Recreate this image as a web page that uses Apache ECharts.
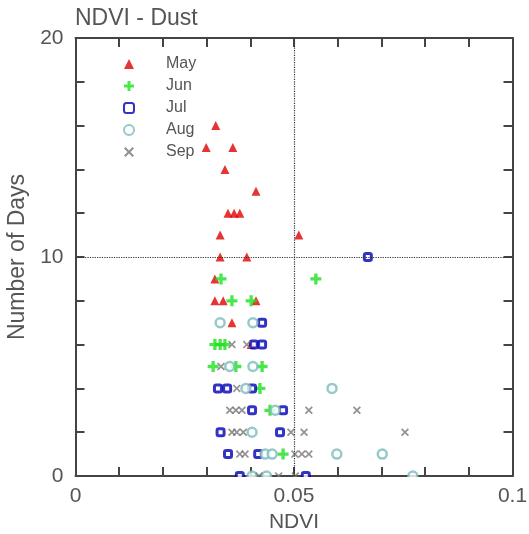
<!DOCTYPE html>
<html>
<head>
<meta charset="utf-8">
<script src="https://cdn.jsdelivr.net/npm/echarts@6/dist/echarts.min.js"></script>
<style>
  html, body { margin: 0; padding: 0; background: #fff; }
  #chart { width: 529px; height: 534px; }
</style>
</head>
<body>
<div id="chart"></div>
<script>
    // [NDVI, number of days]
    const may = [[0.0321, 16], [0.0299, 15], [0.0360, 15], [0.0342, 14], [0.0413, 13], [0.0349, 12], [0.0363, 12], [0.0376, 12],
        [0.0331, 11], [0.0511, 11], [0.0331, 10], [0.0392, 10], [0.0319, 9], [0.0319, 8], [0.0338, 8], [0.0413, 8], [0.0358, 7], [0.0402, 6]]
    const jun = [[0.0333, 9], [0.0550, 9], [0.0358, 8], [0.0402, 8], [0.0319, 6], [0.0331, 6], [0.0342, 6], [0.0315, 5], [0.0367, 5],
        [0.0427, 5], [0.0422, 4], [0.0445, 3], [0.0475, 1]]
    const jul = [[0.0669, 10], [0.0427, 7], [0.0408, 6], [0.0427, 6], [0.0326, 4], [0.0347, 4], [0.0404, 4], [0.0404, 3], [0.0475, 3],
        [0.0332, 2], [0.0468, 2], [0.0349, 1], [0.0418, 1], [0.0376, 0], [0.0527, 0]]
    const aug = [[0.0331, 7], [0.0406, 7], [0.0353, 5], [0.0406, 5], [0.0390, 4], [0.0587, 4], [0.0457, 3], [0.0404, 2], [0.0434, 1],
        [0.0450, 1], [0.0598, 1], [0.0702, 1], [0.0404, 0], [0.0437, 0], [0.0772, 0]]
    const sep = [[0.0358, 6], [0.0392, 6], [0.0333, 5], [0.0369, 4], [0.0353, 3], [0.0367, 3], [0.0381, 3], [0.0534, 3], [0.0644, 3],
        [0.0358, 2], [0.0369, 2], [0.0384, 2], [0.0493, 2], [0.0523, 2], [0.0754, 2], [0.0376, 1], [0.0388, 1], [0.0502, 1],
        [0.0518, 1], [0.0534, 1], [0.0420, 0], [0.0465, 0], [0.0503, 0]]
    const months = ['May', 'Jun', 'Jul', 'Aug', 'Sep']
    const xLabels = [0, 0.05, 0.1]
    const yLabels = [0, 10, 20]

    const axisColor = '#444'
    const textColor = '#555'
    const font = 'Liberation Sans, Arial, sans-serif'

    const plus = 'path://M3.5,0h3v3.5h3.5v3h-3.5v3.5h-3v-3.5h-3.5v-3h3.5z'
    const cross = 'path://M1.5,0L5,3.5L8.5,0L10,1.5L6.5,5L10,8.5L8.5,10L5,6.5L1.5,10L0,8.5L3.5,5L0,1.5z'

    const showLabel = (list) => (v) => list.some(t => Math.abs(t - v) < 1e-9) ? String(+v.toFixed(3)) : ''

    const baseX = {
        type: 'value', min: 0, max: 0.1, interval: 0.01,
        axisLine: { show: true, onZero: false, lineStyle: { color: axisColor, width: 2 } },
        axisTick: { show: true, inside: true, length: 9, lineStyle: { color: axisColor, width: 2 } },
        splitLine: { show: false }
    }
    const baseY = {
        type: 'value', min: 0, max: 20, interval: 2,
        axisLine: { show: true, onZero: false, lineStyle: { color: axisColor, width: 2 } },
        axisTick: { show: true, inside: true, length: 9, lineStyle: { color: axisColor, width: 2 } },
        splitLine: { show: false }
    }

    const option = {
        animation: false,
        title: {
            text: 'NDVI - Dust', left: 70, top: 2,
            textStyle: { color: textColor, fontSize: 23, fontWeight: 'normal', fontFamily: font }
        },
        legend: {
            orient: 'vertical', left: 118, top: 51, itemGap: 6,
            itemWidth: 10, itemHeight: 10,
            data: months,
            textStyle: { color: textColor, fontSize: 16, fontFamily: font, padding: [0, 0, 0, 27] }
        },
        grid: { left: 75.5, right: 16.5, top: 38, bottom: 58, outerBoundsMode: 'none' },
        xAxis: [
            Object.assign({}, baseX, {
                position: 'bottom', name: 'NDVI', nameLocation: 'middle', nameGap: 36,
                nameTextStyle: { color: textColor, fontSize: 21, fontFamily: font },
                axisLabel: { color: textColor, fontSize: 21, fontFamily: font, margin: 10, formatter: showLabel(xLabels) }
            }),
            Object.assign({}, baseX, { position: 'top', axisLabel: { show: false } })
        ],
        yAxis: [
            Object.assign({}, baseY, {
                position: 'left', name: 'Number of Days', nameLocation: 'middle', nameGap: 46, nameRotate: 90,
                nameTextStyle: { color: textColor, fontSize: 23, fontFamily: font },
                axisLabel: { color: textColor, fontSize: 21, fontFamily: font, margin: 12, formatter: showLabel(yLabels) }
            }),
            Object.assign({}, baseY, { position: 'right', axisLabel: { show: false } })
        ],
        series: [
            {
                name: 'May', type: 'scatter', data: may, symbol: 'triangle', symbolSize: 9,
                itemStyle: { color: '#e00000' },
                markLine: {
                    silent: true, symbol: 'none', label: { show: false },
                    lineStyle: { color: '#333', type: 'dotted', width: 1.2 },
                    data: [{ xAxis: 0.05 }, { yAxis: 10 }]
                }
            },
            {
                name: 'Jun', type: 'scatter', data: jun, symbol: plus, symbolSize: 11,
                itemStyle: { color: '#1ee01e' }
            },
            {
                name: 'Jul', type: 'scatter', data: jul, symbol: 'roundRect', symbolSize: 7,
                itemStyle: { color: '#fff', borderColor: '#0000b4', borderWidth: 3 }
            },
            {
                name: 'Aug', type: 'scatter', data: aug, symbol: 'circle', symbolSize: 9,
                itemStyle: { color: '#fff', borderColor: '#7cbcbc', borderWidth: 2.5 }
            },
            {
                name: 'Sep', type: 'scatter', data: sep, symbol: cross, symbolSize: 8,
                itemStyle: { color: '#777' }
            }
        ]
    }

    const chart = echarts.init(document.getElementById('chart'))
    chart.setOption(option)

    // the plot clips markers at the frame: hide the part of the day-0 markers below the x axis
    const [x0, y0] = chart.convertToPixel({ gridIndex: 0 }, [0, 0])
    const [x1] = chart.convertToPixel({ gridIndex: 0 }, [0.1, 0])
    chart.setOption({
        graphic: [{
            type: 'rect', z: 5, silent: true,
            shape: { x: x0 + 1, y: y0 + 1, width: x1 - x0 - 2, height: 8 },
            style: { fill: '#fff' }
        }]
    })
</script>
</body>
</html>
